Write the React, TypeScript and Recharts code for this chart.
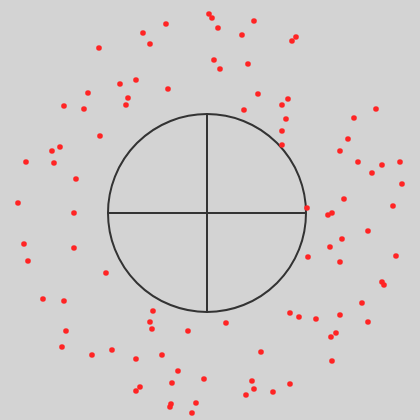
import { ScatterChart, Scatter, XAxis, YAxis, ReferenceDot, ReferenceLine } from "recharts";

// points measured from the centre of the ring, in pixel-ish units (y up)
const upperDots: [number, number][] = [
  [2, 199], [5, 195], [-41, 189], [-64, 180], [-57, 169], [-108, 165],
  [-87, 129], [-71, 133], [-39, 124], [-119, 120], [-79, 115], [-81, 108],
  [-143, 107], [-123, 104], [-107, 77], [-147, 66], [-155, 62], [-181, 51],
  [-153, 50], [-131, 34], [-189, 10], [-133, 0],
  [47, 192], [11, 185], [35, 178], [89, 176], [85, 172], [7, 153],
  [13, 144], [41, 149], [51, 119], [81, 114], [75, 108], [37, 103],
  [169, 104], [147, 95], [79, 94], [75, 82], [141, 74], [75, 68],
  [133, 62], [151, 51], [175, 48], [193, 51], [165, 40], [195, 29],
  [137, 14], [186, 7], [100, 5],
];

const lowerDots: [number, number][] = [
  [121, -2], [125, 0], [161, -18], [135, -26], [123, -34], [189, -43],
  [101, -44], [133, -49], [175, -69], [177, -72], [155, -90], [83, -100],
  [92, -104], [109, -106], [133, -102], [161, -109], [19, -110], [129, -120],
  [124, -124], [54, -139], [125, -148], [45, -168], [83, -171], [47, -176],
  [39, -182], [66, -179],
  [-183, -31], [-133, -35], [-179, -48], [-101, -60], [-164, -86], [-143, -88],
  [-54, -98], [-57, -109], [-55, -116], [-19, -118], [-141, -118], [-145, -134],
  [-115, -142], [-95, -137], [-71, -146], [-45, -142], [-29, -158], [-35, -170],
  [-3, -166], [-67, -174], [-71, -178], [-36, -191], [-37, -194], [-11, -190],
  [-15, -200],
];

const RING = 99;

const data = [...upperDots, ...lowerDots].map(([x, y]) => ({ x, y }));

const Dot = (props: any) => (
  <circle cx={props.cx} cy={props.cy} r={2.8} fill="#ff2424" />
);

export default function App() {
  return (
    <div style={{ position: "absolute", left: 0, top: 0, width: 420, height: 420, background: "#d3d3d3" }}>
      <ScatterChart width={420} height={420} margin={{ top: 0, right: 0, bottom: 0, left: 0 }}>
        <XAxis type="number" dataKey="x" domain={[-207, 213]} hide />
        <YAxis type="number" dataKey="y" domain={[-207, 213]} hide />
        <ReferenceDot x={0} y={0} r={RING} fill="none" stroke="#333" strokeWidth={2} />
        <ReferenceLine
          segment={[{ x: -RING, y: 0 }, { x: RING, y: 0 }]}
          stroke="#333"
          strokeWidth={2}
        />
        <ReferenceLine
          segment={[{ x: 0, y: -RING }, { x: 0, y: RING }]}
          stroke="#333"
          strokeWidth={2}
        />
        <Scatter data={data} shape={Dot} isAnimationActive={false} />
      </ScatterChart>
    </div>
  );
}
